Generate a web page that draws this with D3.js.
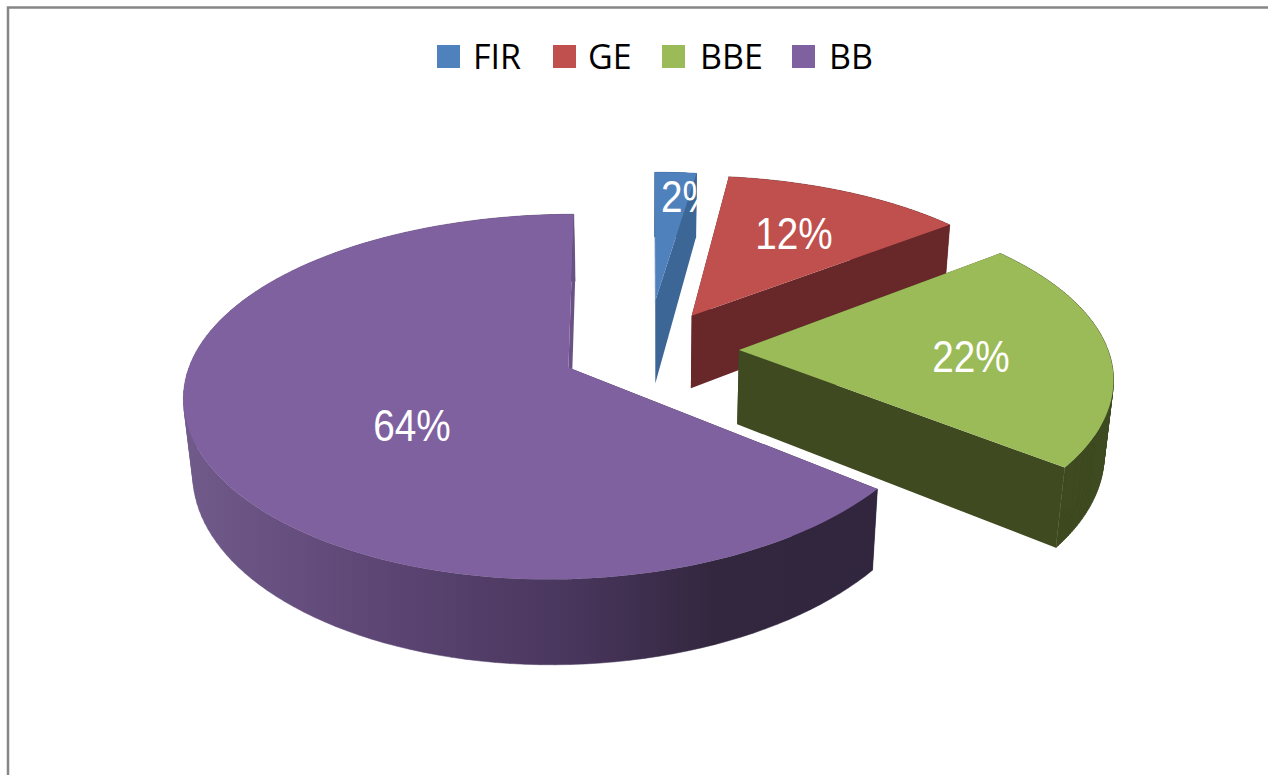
<!DOCTYPE html>
<html>
<head>
<meta charset="utf-8">
<script src="https://cdn.jsdelivr.net/npm/d3@7"></script>
<style>
  html, body { margin: 0; padding: 0; background: #fff; overflow: hidden; }
  svg { display: block; }
</style>
</head>
<body>
<svg id="container" width="1268" height="775"></svg>
<script>
'use strict';

// data
const categories = ['FIR', 'GE', 'BBE', 'BB'];
const shares = [2, 12, 22, 64];

// colours
const topColors = ['#4f81bd', '#c0504d', '#9bbb59', '#7f61a0'];
const wallColors = ['#3c6695', '#68282a', '#3f4a20', '#32263f'];

// perspective camera, fitted by eye
const CX = 650, CY = 350;
const DIST_X = 7.5, DIST_Y = 6.5;
const FOCAL_X = 2768, FOCAL_Y = 1087;
const DEPTH = 490, PUSH_X = 0.15, PUSH_Y = 0.1;
const EXPLODE = 0.241;
const STRETCH_Y = 1.03;
const ANGLE_WARP = 0.028;
const RIM_SHIFT = [0, 0, 0, -0.014];
const APEX_LIFT = [0.07, 0, 0, 0];

const svg = d3.select('#container');

// chart frame
svg.append('path')
  .attr('d', 'M8,775V7.5H1268')
  .attr('fill', 'none')
  .attr('stroke', '#868686')
  .attr('stroke-width', 2.5);

// world coordinates -> screen, h = 0 top face, h = 1 bottom face
const project = (X, Y, h) => [
  CX + FOCAL_X * X / (DIST_X - Y + PUSH_X * h),
  CY + (FOCAL_Y * Y + DEPTH * h) / (DIST_Y - Y + PUSH_Y * h)
];

const pie = d3.pie().sort(null).value(d => d);
const arcs = pie(shares);
const line = d3.line();

const defs = svg.append('defs');
const bbGrad = defs.append('linearGradient')
  .attr('id', 'bbWall')
  .attr('gradientUnits', 'userSpaceOnUse')
  .attr('x1', 190).attr('x2', 880).attr('y1', 0).attr('y2', 0);
[[0, '#705a8a'], [0.3, '#5b4472'], [0.55, '#49365d'], [0.76, '#33273f'], [1, '#30263e']]
  .forEach(s => bbGrad.append('stop').attr('offset', s[0]).attr('stop-color', s[1]));

arcs.forEach((a, i) => {
  const mid = (a.startAngle + a.endAngle) / 2;
  const ox = EXPLODE * Math.sin(mid);
  const oy = -EXPLODE * Math.cos(mid);
  const rim = h => d3.range(0, 121).map(k => {
    const t0 = a.startAngle + (a.endAngle - a.startAngle) * k / 120;
    const t = t0 + ANGLE_WARP * Math.sin(2 * t0);
    return project(ox + RIM_SHIFT[i] + Math.sin(t), oy - STRETCH_Y * Math.cos(t), h);
  });
  const wall = i === 3 ? 'url(#bbWall)' : wallColors[i];
  const apexTop = project(ox, oy - APEX_LIFT[i], 0);
  const apexBottom = project(ox, oy, 1);
  const rimTop = rim(0);
  const rimBottom = rim(1);

  // outer wall: quads with one winding in a single path, so silhouette stays closed
  const wallPath = d3.range(0, 120).map(k => {
    const quad = [rimTop[k], rimTop[k + 1], rimBottom[k + 1], rimBottom[k]];
    if (d3.polygonArea(quad) < 0) quad.reverse();
    return line(quad) + 'Z';
  }).join('');

  const g = svg.append('g');
  g.append('path')
    .attr('d', wallPath)
    .attr('fill', wall)
    .attr('stroke', wall)
    .attr('stroke-width', 0.5);
  // the two cut walls
  g.append('path')
    .attr('d', line([apexTop, rimTop[0], rimBottom[0], apexBottom]) + 'Z')
    .attr('fill', wallColors[i]);
  g.append('path')
    .attr('d', line([apexTop, rimTop[120], rimBottom[120], apexBottom]) + 'Z')
    .attr('fill', i === 3 ? '#6a5287' : wallColors[i]);
  // top face
  g.append('path')
    .attr('d', line([apexTop].concat(rimTop)) + 'Z')
    .attr('fill', topColors[i]);
});

// percent labels, squeezed a little as in the original
const labelAt = [[689, 212], [794, 249], [971, 372], [412, 441]];
svg.append('g')
  .selectAll('text')
  .data(shares)
  .join('text')
  .attr('transform', (d, i) => `translate(${labelAt[i][0]},${labelAt[i][1]}) scale(0.88,1)`)
  .attr('text-anchor', 'middle')
  .attr('font-family', '"Liberation Sans", Arial, sans-serif')
  .attr('font-size', 44)
  .attr('fill', '#fff')
  .text(d => d + '%');

// legend
const legendSwatch = [437, 553, 662, 792];
const legendText = [473, 588, 700, 829];
const legend = svg.append('g');
legend.selectAll('rect')
  .data(categories)
  .join('rect')
  .attr('x', (d, i) => legendSwatch[i])
  .attr('y', 45)
  .attr('width', 23)
  .attr('height', 23)
  .attr('fill', (d, i) => topColors[i]);
legend.selectAll('text')
  .data(categories)
  .join('text')
  .attr('x', (d, i) => legendText[i])
  .attr('y', 69)
  .attr('font-family', '"Open Sans", sans-serif')
  .attr('font-size', 34)
  .attr('fill', '#000')
  .text(d => d);
</script>
</body>
</html>
